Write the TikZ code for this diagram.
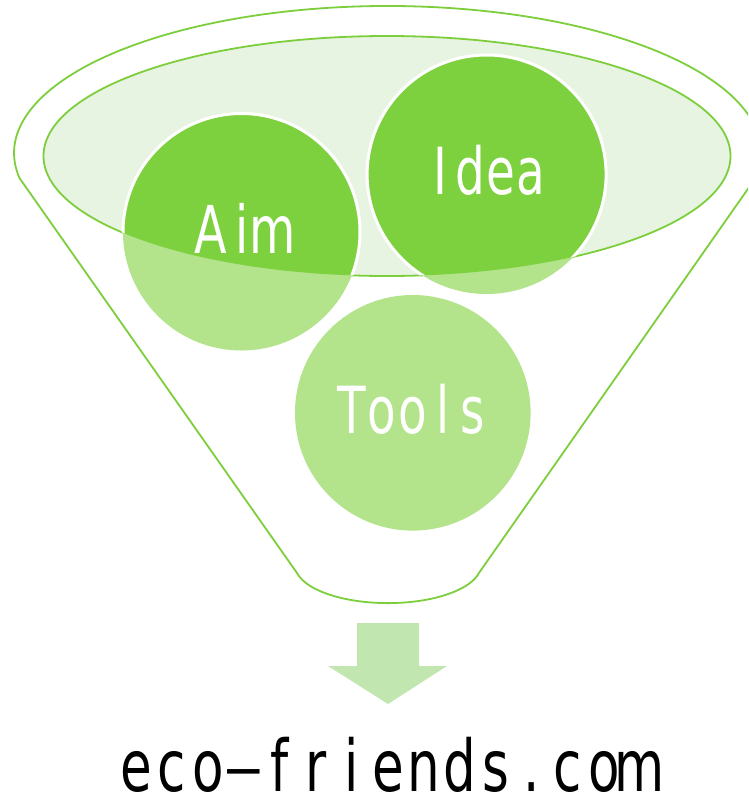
\documentclass[tikz,border=0pt]{standalone}
\usepackage{fontspec}
\newfontfamily\gfont{DejaVu Sans}[FakeStretch=0.72]
\definecolor{fline}{RGB}{125,206,60}
\definecolor{elfill}{RGB}{232,244,226}
\definecolor{cdark}{RGB}{126,209,62}
\definecolor{clight}{RGB}{179,227,139}
\definecolor{arrowc}{RGB}{194,230,176}
\newlength\cw
\newcommand\C[1]{\makebox[\cw][c]{#1}}
\tikzset{
  funnel/.style={draw=fline, line width=1.8pt, line join=round},
  lightball/.style={fill=clight},
  darkball/.style={fill=cdark, draw=white, line width=3pt},
  balltext/.style={text=white, inner sep=0pt, anchor=base},
  sitetext/.style={text=black, inner sep=0pt, anchor=base}
}
\begin{document}
\begin{tikzpicture}[x=1pt,y=-1pt]
\useasboundingbox (0,0) rectangle (748,796);
\clip (0,0) rectangle (748,796);
% funnel outline
\draw[funnel] (19.45,178) -- (297,573)
  arc[start angle=168, end angle=12, x radius=93, y radius=38]
  -- (755.55,178)
  arc[start angle=9.8, end angle=-189.8, x radius=373.5, y radius=147] -- cycle;
% inner ellipse (mouth)
\path[fill=elfill, draw=fline, line width=1.8pt] (387,156) ellipse [x radius=343.5, y radius=120];
% balls, light parts
\fill[lightball] (241.5,232) circle [radius=118.5];
\fill[lightball] (486.6,174.5) circle [radius=119.5];
\fill[lightball] (412.8,412.8) circle [radius=117.8];
% balls, parts inside the mouth
\begin{scope}
  \clip (387,156) ellipse [x radius=343.5, y radius=120];
  \path[darkball] (241.5,232) circle [radius=118.5];
  \path[darkball] (486.6,174.5) circle [radius=119.5];
\end{scope}
% labels
\node[balltext, font=\fontsize{66}{66}\selectfont\gfont] (aim) at (242,253)
  {\setlength\cw{31pt}\C{A}\C{i}\C{m}};
\node[balltext, font=\fontsize{65}{65}\selectfont\gfont] (idea) at (485.5,194)
  {\setlength\cw{30.3pt}\C{I}\C{d}\C{e}\C{a}};
\node[balltext, font=\fontsize{65}{65}\selectfont\gfont] (tools) at (412.5,433)
  {\setlength\cw{30.3pt}\C{T}\C{o}\C{o}\C{l}\C{s}};
% arrow
\fill[arrowc] (357,623) -- (419,623) -- (419,666) -- (447,666) -- (388,704)
  -- (328,666) -- (357,666) -- cycle;
% site name
\node[sitetext, font=\fontsize{71.5}{71.5}\selectfont\gfont] (site) at (388,791)
  {\setlength\cw{36pt}\C{e}\C{c}\C{o}\C{\raisebox{4pt}{\scalebox{2.4}[0.8]{-}}}\C{f}\C{r}\C{i}\C{e}\C{n}\C{d}\C{s}\C{.}\C{c}\C{o}\C{m}};
\end{tikzpicture}
\end{document}
